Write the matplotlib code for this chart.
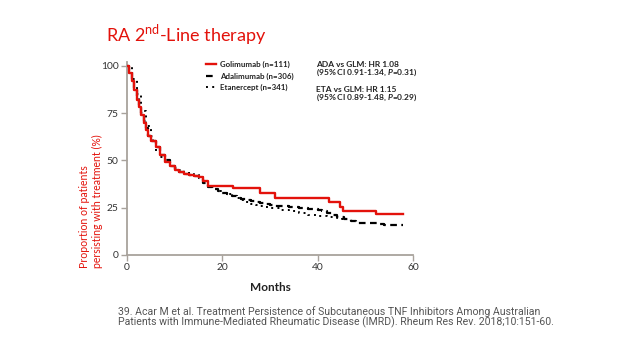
import matplotlib
matplotlib.use("Agg")
import matplotlib.pyplot as plt

# Kaplan-Meier style step data (months, % persisting)
gol_t = [0, 0.5, 1, 1.5, 2, 2.5, 3, 3.5, 4, 4.5, 5, 6, 7, 8, 9, 10, 11, 12, 13, 14, 15, 16, 17,
         22.3, 27.9, 31, 42.4, 44.7, 45.3, 45.7, 52.3, 58]
gol_s = [100, 96, 92, 87, 82, 78, 74, 70, 66, 63, 60, 57, 53, 49, 47, 45, 44, 43, 42.5, 42, 41, 39, 36.5,
         35.4, 32.6, 30.3, 28.1, 25.5, 23.2, 23.2, 21.8, 21.8]

ada_t = [0, 0.5, 1, 1.5, 2, 2.5, 3, 3.5, 4, 4.5, 5, 6, 7, 8, 9, 10, 11, 12, 13, 14, 15, 16, 17,
         18, 19, 20, 21, 22, 23, 24, 25, 26, 27, 28, 29, 30, 31, 32, 34, 36, 38, 40, 41, 42, 43,
         44, 45.5, 47, 48, 49, 53, 54, 55, 58]
ada_s = [100, 97, 93, 88, 83, 79, 75, 71, 67, 63, 60, 57, 53, 50, 47, 45.5, 44, 43, 42.5, 42, 40.5, 38, 36,
         35, 34, 33, 32, 31, 30, 29.5, 29, 28.5, 28, 27.5, 27, 26.5, 26, 25.8, 25.3, 25, 24.5, 24, 23, 22, 21,
         20, 19, 18, 17, 16.8, 16.5, 16, 15.8, 15.8]

eta_t = [0, 1, 2, 3, 4, 5, 5.5, 6, 7, 8, 9, 10, 11, 12, 13, 14, 15, 16, 17, 18, 19, 20, 21, 22, 23,
         24, 25, 26, 27, 28, 29, 30, 32, 34, 36, 38, 40, 42, 43, 44, 45, 46]
eta_s = [100, 93, 85, 76, 68, 63, 60, 55, 52, 49, 47, 46, 45, 44, 43, 42.5, 41.5, 39, 36, 35, 34, 33, 32, 31, 30,
         29, 28, 27, 26.5, 26, 25.5, 25, 24, 23, 22, 21, 20.5, 20.3, 20.3, 19.5, 19, 19]

labels = ["Golimumab (n=111)", "Adalimumab (n=306)", "Etanercept (n=341)"]
x_ticks = [0, 20, 40, 60]
y_ticks = [0, 25, 50, 75, 100]

plt.rcParams["font.family"] = ["Lato", "DejaVu Sans"]
plt.rcParams["mathtext.fontset"] = "custom"
plt.rcParams["mathtext.rm"] = "Lato"
plt.rcParams["mathtext.it"] = "Lato:italic:bold"

red = "#e3120b"
grey = "#a8a29c"

fig = plt.figure(figsize=(6.24, 3.52), dpi=100)
ax = fig.add_axes([127 / 624, 1 - 255 / 352, 286 / 624, 193 / 352])

ax.step(gol_t, gol_s, where="post", color=red, lw=1.7, label=labels[0], zorder=3)
ax.step(ada_t, ada_s, where="post", color="black", lw=1.6, dashes=(3, 2), label=labels[1], zorder=2)
ax.step(eta_t, eta_s, where="post", color="black", lw=1.4, dashes=(1, 2.2), label=labels[2], zorder=2)

ax.set_xlim(0, 60)
ax.set_ylim(0, 102)
ax.set_xticks(x_ticks)
ax.set_yticks(y_ticks)
for s in ["top", "right"]:
    ax.spines[s].set_visible(False)
for s in ["left", "bottom"]:
    ax.spines[s].set_color(grey)
    ax.spines[s].set_linewidth(1.3)
ax.tick_params(colors=grey, labelcolor="#333333", labelsize=7.4, length=4, width=1, pad=2)

ax.set_xlabel("Months", fontsize=8.5, fontweight="bold", color="#222222", labelpad=7)

fig.text(91 / 624, 1 - 268 / 352, "Proportion of patients\npersisting with treatment (%)",
         fontsize=7.6, color=red, rotation=90, ha="center", va="bottom",
         multialignment="left", linespacing=1.2)

leg = ax.legend(loc="upper left", bbox_to_anchor=(206 / 624, 1 - 61 / 352),
                bbox_transform=fig.transFigure, frameon=False, fontsize=5.7,
                handlelength=1.3, handletextpad=0.5, labelspacing=0.55,
                borderpad=0, borderaxespad=0)
for t in leg.get_texts():
    t.set_fontweight("bold")
    t.set_color("#222222")

fig.text(106 / 624, 1 - 41 / 352, "RA 2$^{\\rm nd}$-Line therapy", color=red,
         fontsize=13, va="baseline", ha="left")

stats = [("ADA vs GLM: HR 1.08", 67), ("(95% CI 0.91-1.34, $\\it{P}$=0.31)", 75),
         ("ETA vs GLM: HR 1.15", 92), ("(95% CI 0.89-1.48, $\\it{P}$=0.29)", 100)]
for txt, yy in stats:
    fig.text(316 / 624, 1 - yy / 352, txt, fontsize=6, fontweight="bold",
             color="#222222", va="baseline", ha="left")

ref = ("39. Acar M et al. Treatment Persistence of Subcutaneous TNF Inhibitors Among Australian\n"
       "Patients with Immune-Mediated Rheumatic Disease (IMRD). Rheum Res Rev. 2018;10:151-60.")
fig.text(118 / 624, 1 - 317 / 352, ref, fontsize=7.6, color="#555555", va="center", ha="left",
         family=["Roboto", "DejaVu Sans"], linespacing=1.0)

fig.savefig("out.png", dpi=100)
